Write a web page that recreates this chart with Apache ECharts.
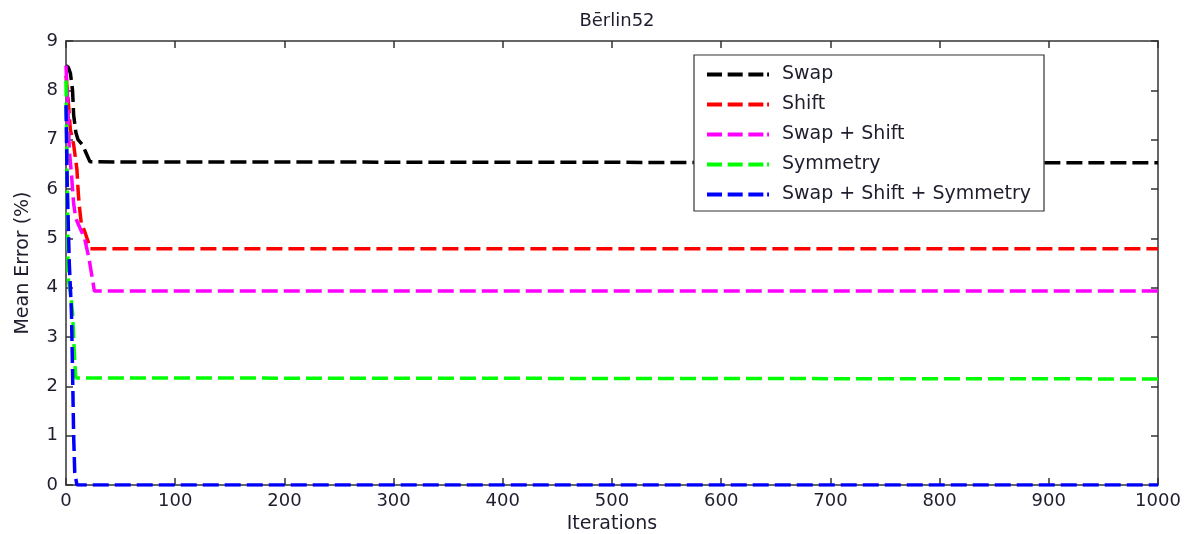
<!DOCTYPE html>
<html>
<head>
<meta charset="utf-8">
<script src="https://cdn.jsdelivr.net/npm/echarts@6/dist/echarts.min.js"></script>
<style>
html,body{margin:0;padding:0;background:#fff;}
#chart{width:1194px;height:534px;}
</style>
</head>
<body>
<div id="chart"></div>
<script>
// ---- data (iteration, mean error %) ----
const seriesNames = ["Swap", "Shift", "Swap + Shift", "Symmetry", "Swap + Shift + Symmetry"];
const seriesColors = ["#000000", "#ff0000", "#ff00ff", "#00ff00", "#0000ff"];
const swapData = [[0,8.5],[2,8.47],[4,8.35],[6,8.0],[7,7.5],[9,7.15],[11,7.0],[15,6.9],[18,6.75],[22,6.55],[1000,6.53]];
const shiftData = [[0,8.3],[2,7.8],[4,7.2],[7,6.9],[10,6.4],[11,6.0],[12,5.7],[14,5.3],[17,5.15],[20,4.95],[22,4.79],[1000,4.79]];
const swapShiftData = [[0,8.5],[2,7.5],[3,6.8],[5,6.3],[7,5.7],[9,5.4],[13,5.2],[17,5.0],[21,4.6],[24,4.2],[26,3.93],[1000,3.93]];
const symmetryData = [[0,8.2],[1,6.5],[2,4.2],[4,3.9],[6,3.5],[7,3.0],[8,2.5],[9,2.17],[1000,2.15]];
const allData = [[0,7.7],[1,6.2],[3,4.5],[5,3.5],[6,2.3],[7,1.0],[8,0.25],[10,0],[1000,0]];
const xTicks = {min: 0, max: 1000, interval: 100};
const yTicks = {min: 0, max: 9, interval: 1};
const titleText = "B\u0113rlin52";

const dataSets = [swapData, shiftData, swapShiftData, symmetryData, allData];
const FONT = "DejaVu Sans";
const TXT = "#1e1e2e";
const DASH_ICON = "path://M0,0h16v4h-16z M22,0h16v4h-16z M44,0h16v4h-16z M64,0h2v4h-2z";

const chart = echarts.init(document.getElementById('chart'), null, {renderer: 'canvas'});

function axisCommon(extra) {
  return Object.assign({
    axisLine: {show: true, onZero: false, lineStyle: {color: '#333', width: 1.5}},
    axisTick: {show: true, inside: true, length: 7, lineStyle: {color: '#333', width: 1.5}},
    splitLine: {show: false}
  }, extra);
}

const option = {
  backgroundColor: '#ffffff',
  animation: false,
  title: {
    text: titleText,
    left: 612, top: 7, textAlign: 'center',
    textStyle: {fontFamily: FONT, fontSize: 18, fontWeight: 'normal', color: TXT}
  },
  grid: {left: 66, right: 36, top: 41, bottom: 49, containLabel: false, outerBoundsMode: 'none'},
  legend: {
    orient: 'vertical',
    left: 694, top: 55,
    padding: [10, 13, 7, 13],
    itemGap: 11,
    itemWidth: 62, itemHeight: 14,
    backgroundColor: '#fff',
    borderColor: '#333', borderWidth: 1.2,
    textStyle: {fontFamily: FONT, fontSize: 19, color: TXT, padding: [0, 0, 0, 8], lineHeight: 14},
    data: seriesNames.map((n, i) => ({
      name: n,
      icon: DASH_ICON,
      itemStyle: {color: seriesColors[i], borderWidth: 0}
    }))
  },
  xAxis: [
    axisCommon({
      type: 'value', position: 'bottom',
      min: xTicks.min, max: xTicks.max, interval: xTicks.interval,
      name: 'Iterations', nameLocation: 'middle', nameGap: 29,
      nameTextStyle: {fontFamily: FONT, fontSize: 19, color: TXT},
      axisLabel: {fontFamily: FONT, fontSize: 18, color: TXT, margin: 7, formatter: v => String(v)}
    }),
    axisCommon({
      type: 'value', position: 'top',
      min: xTicks.min, max: xTicks.max, interval: xTicks.interval,
      axisLabel: {show: false}
    })
  ],
  yAxis: [
    axisCommon({
      type: 'value', position: 'left',
      min: yTicks.min, max: yTicks.max, interval: yTicks.interval,
      name: 'Mean Error (%)', nameLocation: 'middle', nameGap: 33,
      nameTextStyle: {fontFamily: FONT, fontSize: 19, color: TXT},
      axisLabel: {fontFamily: FONT, fontSize: 18, color: TXT, margin: 8}
    }),
    axisCommon({
      type: 'value', position: 'right',
      min: yTicks.min, max: yTicks.max, interval: yTicks.interval,
      axisLabel: {show: false}
    })
  ],
  series: seriesNames.map((name, i) => ({
    name: name,
    type: 'line',
    data: dataSets[i],
    xAxisIndex: 0, yAxisIndex: 0,
    showSymbol: false, symbol: 'none',
    clip: true,
    color: seriesColors[i],
    lineStyle: {color: seriesColors[i], width: 3.5, type: [16, 6], cap: 'butt'},
    itemStyle: {color: seriesColors[i]},
    emphasis: {disabled: true}
  }))
};
chart.setOption(option);
</script>
</body>
</html>
